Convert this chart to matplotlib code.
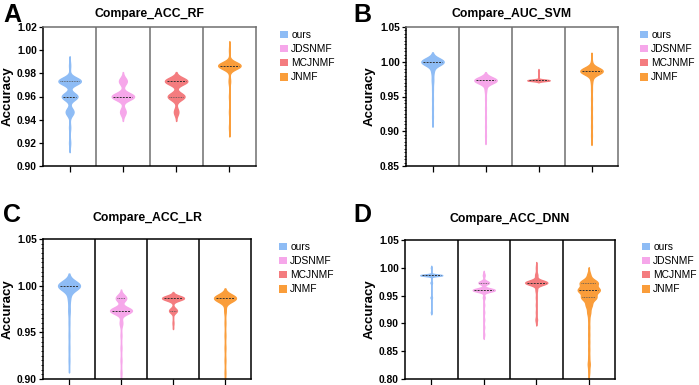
import numpy as np
import matplotlib
matplotlib.use("Agg")
import matplotlib.pyplot as plt
from matplotlib.patches import Patch
from matplotlib.ticker import MultipleLocator, FormatStrFormatter

plt.rcParams['font.family'] = ['Liberation Sans', 'DejaVu Sans']
plt.rcParams['font.weight'] = 'bold'

methods = ["ours", "JDSNMF", "MCJNMF", "JNMF"]
colors = ["#8EBCF5", "#F6A7EA", "#F47C7F", "#FA9D3A"]

titles = ["Compare_ACC_RF", "Compare_AUC_SVM", "Compare_ACC_LR", "Compare_ACC_DNN"]
letters = ["A", "B", "C", "D"]

# Accuracy values (distinct levels) and how many runs hit each level, per method
# Panel A: Compare_ACC_RF
A_ours_vals = [0.92, 0.9333, 0.9467, 0.96, 0.9733, 0.9867]
A_ours_cnt = [1, 1, 7, 14, 20, 1]
A_jds_vals = [0.9467, 0.96, 0.9733]
A_jds_cnt = [5, 20, 7]
A_mcj_vals = [0.9467, 0.96, 0.9733]
A_mcj_cnt = [4, 15, 20]
A_jnmf_vals = [0.9333, 0.9467, 0.96, 0.9733, 0.9867, 1.0]
A_jnmf_cnt = [1, 1, 1, 2, 30, 1]

# Panel B: Compare_AUC_SVM
B_ours_vals = [0.92, 0.9333, 0.9467, 0.96, 0.9733, 0.9867, 1.0]
B_ours_cnt = [1, 1, 1, 1, 2, 3, 31]
B_jds_vals = [0.8933, 0.9067, 0.92, 0.9333, 0.9467, 0.96, 0.9733]
B_jds_cnt = [1, 1, 1, 1, 1, 2, 30]
B_mcj_vals = [0.9733, 0.9867]
B_mcj_cnt = [30, 1]
B_jnmf_vals = [0.8933, 0.9067, 0.92, 0.9333, 0.9467, 0.96, 0.9733, 0.9867, 1.0]
B_jnmf_cnt = [1, 1, 1, 1, 1, 1, 2, 30, 1]

# Panel C: Compare_ACC_LR
C_ours_vals = [0.92, 0.9333, 0.9467, 0.96, 0.9733, 0.9867, 1.0]
C_ours_cnt = [1, 1, 1, 1, 2, 3, 32]
C_jds_vals = [0.8933, 0.9067, 0.92, 0.9333, 0.9467, 0.96, 0.9733, 0.9867]
C_jds_cnt = [1, 1, 1, 1, 1, 3, 25, 12]
C_mcj_vals = [0.96, 0.9733, 0.9867]
C_mcj_cnt = [1, 9, 25]
C_jnmf_vals = [0.8933, 0.9067, 0.92, 0.9333, 0.9467, 0.96, 0.9733, 0.9867]
C_jnmf_cnt = [1, 1, 1, 1, 1, 1, 2, 30]

# Panel D: Compare_ACC_DNN
D_ours_vals = [0.92, 0.9467, 0.9733, 0.9867, 1.0]
D_ours_cnt = [1, 2, 2, 30, 1]
D_jds_vals = [0.88, 0.8933, 0.9067, 0.92, 0.9333, 0.9467, 0.96, 0.9733, 0.9867]
D_jds_cnt = [1, 1, 1, 1, 1, 2, 25, 12, 2]
D_mcj_vals = [0.9067, 0.92, 0.9333, 0.9467, 0.96, 0.9733, 0.9867, 1.0]
D_mcj_cnt = [2, 1, 1, 1, 2, 30, 3, 1]
D_jnmf_vals = [0.8133, 0.8267, 0.84, 0.8533, 0.8667, 0.88, 0.8933, 0.9067,
               0.92, 0.9333, 0.9467, 0.96, 0.9733, 0.9867]
D_jnmf_cnt = [1, 2, 1, 1, 1, 1, 1, 1, 3, 6, 15, 22, 18, 3]

panels_vals = [
    [(A_ours_vals, A_ours_cnt), (A_jds_vals, A_jds_cnt), (A_mcj_vals, A_mcj_cnt), (A_jnmf_vals, A_jnmf_cnt)],
    [(B_ours_vals, B_ours_cnt), (B_jds_vals, B_jds_cnt), (B_mcj_vals, B_mcj_cnt), (B_jnmf_vals, B_jnmf_cnt)],
    [(C_ours_vals, C_ours_cnt), (C_jds_vals, C_jds_cnt), (C_mcj_vals, C_mcj_cnt), (C_jnmf_vals, C_jnmf_cnt)],
    [(D_ours_vals, D_ours_cnt), (D_jds_vals, D_jds_cnt), (D_mcj_vals, D_mcj_cnt), (D_jnmf_vals, D_jnmf_cnt)],
]

# style: kernel bandwidths, axis limits/ticks
bandwidths = [
    [0.0031, 0.003, 0.003, 0.003],
    [0.0052, 0.0045, 0.0011, 0.005],
    [0.005, 0.0035, 0.0025, 0.004],
    [0.0014, 0.003, 0.004, 0.0055],
]
ylims = [(0.90, 1.02), (0.85, 1.05), (0.90, 1.05), (0.80, 1.05)]
ymajor = [0.02, 0.05, 0.05, 0.05]
yminor = [None, 0.005, 0.005, None]
frame_col = ["#6f6f6f", "#6f6f6f", "black", "black"]

W, H = 699, 385
# axes boxes in pixels: left, top, right, bottom
boxes = [(43, 27, 256, 166), (406, 27, 618, 166), (43, 239, 251, 379), (405, 240, 615, 379)]
title_pads = [7, 7, 13, 13]
ylabel_x = [14, 376, 14, 376]
legend_pos = [(280, 30), (640, 30), (279, 242), (642, 242)]
letter_pos = [(3, 3), (353, 3), (3, 203), (353, 203)]

fig = plt.figure(figsize=(W / 100, H / 100), dpi=100)

VW = 0.42  # full violin width in category units

for p in range(4):
    l, t, r, b = boxes[p]
    ax = fig.add_axes([l / W, 1 - b / H, (r - l) / W, (b - t) / H])
    ax.set_xlim(0.5, 4.5)
    ax.set_ylim(*ylims[p])
    for i, (vals, cnts) in enumerate(panels_vals[p]):
        vals = np.asarray(vals, float)
        cnts = np.asarray(cnts, float)
        bw = bandwidths[p][i]
        grid = np.linspace(vals.min() - 2.6 * bw, vals.max() + 2.6 * bw, 800)
        dens = (cnts[None, :] * np.exp(-0.5 * ((grid[:, None] - vals[None, :]) / bw) ** 2)).sum(axis=1)
        half = VW / 2 * dens / dens.max()
        x = i + 1
        ax.fill_betweenx(grid, x - half, x + half, facecolor=colors[i], edgecolor=colors[i],
                         linewidth=1.0, zorder=2, clip_on=True)
        data = np.repeat(vals, cnts.astype(int))
        q1, med, q3 = np.percentile(data, [25, 50, 75], method="nearest")
        hw = np.interp(med, grid, half) * 0.85
        ax.plot([x - hw, x + hw], [med, med], color="#333333", lw=0.7, ls=(0, (2.0, 1.2)), zorder=3)
        for q in (q1, q3):
            if abs(q - med) > 1e-9:
                hw = np.interp(q, grid, half) * 0.85
                ax.plot([x - hw, x + hw], [q, q], color="#555555", lw=0.6, ls=(0, (1, 1)), zorder=3)
    # separators
    for s in (1.5, 2.5, 3.5):
        ax.axvline(s, color=frame_col[p], lw=1.1, zorder=1)
    for sp in ("top", "right"):
        ax.spines[sp].set_color(frame_col[p])
        ax.spines[sp].set_linewidth(1.1)
    for sp in ("left", "bottom"):
        ax.spines[sp].set_color("black")
        ax.spines[sp].set_linewidth(1.1)
    ax.set_xticks([1, 2, 3, 4])
    ax.set_xticklabels([])
    ax.tick_params(axis="x", length=4, width=0.9, direction="out")
    ax.yaxis.set_major_locator(MultipleLocator(ymajor[p]))
    if yminor[p]:
        ax.yaxis.set_minor_locator(MultipleLocator(yminor[p]))
        ax.tick_params(axis="y", which="minor", length=1.8, width=0.6)
    ax.tick_params(axis="y", which="major", length=3, width=0.9, pad=1.5, labelsize=7.4)
    ax.yaxis.set_major_formatter(FormatStrFormatter("%.2f"))
    ax.set_ylabel("Accuracy", fontsize=9.5, fontweight="bold")
    ax.yaxis.set_label_coords((ylabel_x[p] - l) / (r - l), 0.5)
    ax.set_title(titles[p], fontsize=8.8, fontweight="bold", pad=title_pads[p])
    handles = [Patch(facecolor=c, edgecolor="none") for c in colors]
    lx, ly = legend_pos[p]
    fig.legend(handles, methods, loc="upper left", bbox_to_anchor=(lx / W, 1 - ly / H),
               bbox_transform=fig.transFigure, frameon=False,
               prop={"size": 7.4, "weight": "normal"},
               handlelength=0.75, handleheight=0.75, handletextpad=0.35,
               labelspacing=0.4, borderpad=0, borderaxespad=0)
    tx, ty = letter_pos[p]
    fig.text(tx / W, 1 - ty / H, letters[p], fontsize=18, fontweight="bold", va="top", ha="left")

fig.savefig("out.png", dpi=100)
